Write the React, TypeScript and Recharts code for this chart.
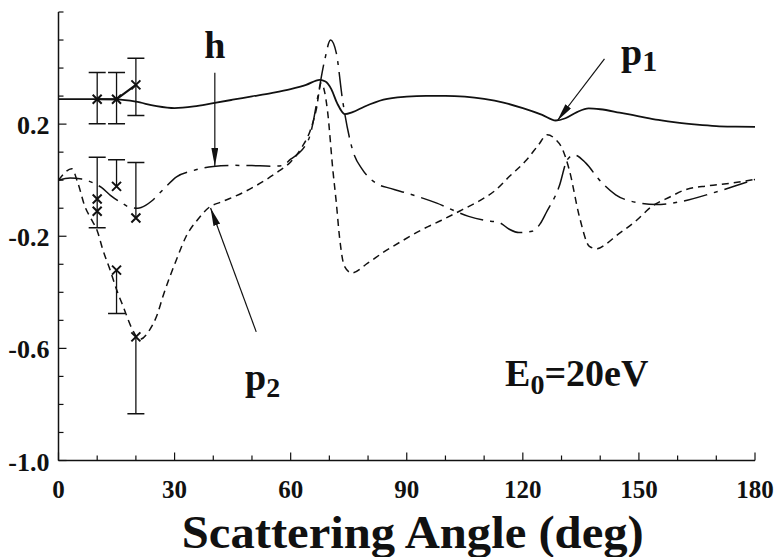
import React from "react";
import { ComposedChart, Line, Scatter, XAxis, YAxis, ReferenceDot } from "recharts";

// ---- theory curves: [scattering angle (deg), value]
const p1Curve: number[][] = [
  [0, 0.289], [5, 0.289], [10, 0.289], [15, 0.288], [20, 0.28], [25, 0.265], [30, 0.257],
  [35, 0.263], [40, 0.275], [45, 0.287], [50, 0.299], [55, 0.311], [60, 0.325], [64, 0.34],
  [67.5, 0.358], [69, 0.352], [70.5, 0.325], [72, 0.275], [74, 0.236], [76, 0.243],
  [79, 0.262], [84, 0.287], [90, 0.298], [95, 0.301], [100, 0.301], [105, 0.298],
  [110, 0.29], [115, 0.277], [120, 0.257], [125, 0.233], [128.5, 0.213], [131, 0.221],
  [134, 0.243], [137, 0.256], [140, 0.253], [145, 0.241], [150, 0.228], [155, 0.215],
  [160, 0.205], [165, 0.198], [170, 0.193], [175, 0.191], [180, 0.19],
];

const p2Curve: number[][] = [
  [0, 0.0], [1.5, 0.025], [3.4, 0.041], [5, -0.01], [6.8, -0.093], [8.5, -0.14], [10, -0.18],
  [11.5, -0.25], [13.3, -0.319], [15, -0.39], [16.7, -0.45], [19, -0.53], [21, -0.568],
  [23.6, -0.533], [25.5, -0.48], [27, -0.414], [30.5, -0.283], [33, -0.2], [36, -0.14],
  [39, -0.096], [42, -0.078], [45, -0.061], [48, -0.042], [51, -0.02], [54, 0.005],
  [57, 0.033], [60, 0.065], [63, 0.12], [65, 0.175], [66.6, 0.251], [67.9, 0.346],
  [69.5, 0.25], [70.9, 0.037], [71.8, -0.081], [72.6, -0.2], [73.9, -0.307], [75.8, -0.331],
  [80, -0.295], [84, -0.257], [89, -0.215], [94, -0.176], [99, -0.143], [104.4, -0.105],
  [109, -0.072], [113, -0.035], [116.5, 0.013], [121, 0.073], [124, 0.125], [126.3, 0.162],
  [128.5, 0.145], [130, 0.118], [132, 0.037], [134.6, -0.129], [137.2, -0.236],
  [139.2, -0.245], [141.5, -0.228], [144, -0.2], [149, -0.148], [153.4, -0.093],
  [158, -0.06], [162, -0.034], [168, -0.02], [174, -0.01], [180, 0.003],
];

const hCurve: number[][] = [
  [0, 0.0], [3, 0.008], [6, 0.004], [9, -0.01], [11, -0.025], [13.5, -0.055], [16.3, -0.081],
  [18.5, -0.097], [20.5, -0.1], [22.5, -0.09], [24, -0.075], [27, -0.034], [30.5, 0.012],
  [35, 0.035], [40, 0.049], [45, 0.053], [50, 0.052], [55, 0.05], [58, 0.052], [60, 0.075],
  [62, 0.095], [63.6, 0.12], [65, 0.16], [65.7, 0.2], [67, 0.297], [68.8, 0.429], [70.3, 0.5],
  [71.8, 0.453], [73.4, 0.287], [76, 0.108], [78.6, 0.037], [82, -0.01], [86, -0.03],
  [90, -0.046], [97.6, -0.081], [106, -0.129], [110, -0.143], [114, -0.152], [116.5, -0.175],
  [119, -0.187], [122.4, -0.182], [124.5, -0.155], [126, -0.117], [129.4, -0.022],
  [131.5, 0.073], [133.3, 0.09], [136.3, 0.061], [139.7, 0.002], [144, -0.052], [150, -0.081],
  [154.4, -0.087], [161, -0.076], [169, -0.046], [175, -0.02], [180, 0.003],
];

// ---- experimental points
const expAngles = [10, 15, 20];
const p1Exp = [0.289, 0.289, 0.34];
const hExp = [-0.067, -0.022, -0.135];
const p2Exp = [-0.111, -0.321, -0.559];

// error bars: [angle, low, high, capLow, capHigh]
const errorBars: (number | boolean)[][] = [
  [10, 0.201, 0.384, true, true],
  [15, 0.201, 0.384, true, true],
  [20, 0.231, 0.435, true, true],
  [10, -0.17, 0.082, true, true],
  [15, -0.022, 0.073, false, true],
  [20, -0.135, 0.063, false, true],
  [15, -0.476, -0.321, true, false],
  [20, -0.833, -0.559, true, false],
];

// ---- axes
const xTicks = [0, 10, 20, 30, 40, 50, 60, 70, 80, 90, 100, 110, 120, 130, 140, 150, 160, 170, 180];
const xLabelTicks = [0, 30, 60, 90, 120, 150, 180];
const yTicks = [-1.0, -0.9, -0.8, -0.7, -0.6, -0.5, -0.4, -0.3, -0.2, -0.1, 0.0, 0.1, 0.2, 0.3, 0.4, 0.5, 0.6];
const yLabelTicks = [-1.0, -0.6, -0.2, 0.2];
const yLabelText = ["-1.0", "-0.6", "-0.2", "0.2"];
const xTitle = "Scattering Angle (deg)";

// ---- annotations: [angle, value]
const hArrow = [[40.4, 0.383], [40.4, 0.051]];
const p1Arrow = [[141.1, 0.433], [128.9, 0.212]];
const p2Arrow = [[51.1, -0.541], [39.3, -0.099]];
const hLabelPos = [40.4, 0.437];
const p1LabelPos = [145.4, 0.41];
const p2LabelPos = [48.2, -0.748];
const energyLabelPos = [115.4, -0.734];

const toXY = (arr: number[][]) => arr.map(([x, y]) => ({ x, y }));
const FONT = "'Liberation Serif', 'Times New Roman', serif";
const INK = "#111";
const isMajor = (v: number, list: number[]) => list.some((m) => Math.abs(m - v) < 1e-6);

const BottomTick = (props: any) => {
  const { x, y, payload } = props;
  const major = isMajor(payload.value, xLabelTicks);
  return (
    <g>
      <line x1={x} x2={x} y1={y} y2={y - (major ? 8 : 5)} stroke={INK} strokeWidth={1.2} />
      {major && (
        <text x={x} y={y + 37} textAnchor="middle" fontFamily={FONT} fontWeight="bold" fontSize={25} fill={INK}>
          {payload.value}
        </text>
      )}
    </g>
  );
};
const TopTick = (props: any) => {
  const { x, y, payload } = props;
  const major = isMajor(payload.value, xLabelTicks);
  return <line x1={x} x2={x} y1={y} y2={y + (major ? 8 : 5)} stroke={INK} strokeWidth={1.2} />;
};
const LeftTick = (props: any) => {
  const { x, y, payload } = props;
  const idx = yLabelTicks.findIndex((m) => Math.abs(m - payload.value) < 1e-6);
  const major = idx >= 0;
  return (
    <g>
      <line x1={x} x2={x + (major ? 8 : 5)} y1={y} y2={y} stroke={INK} strokeWidth={1.2} />
      {major && (
        <text x={x - 9} y={y + 10} textAnchor="end" fontFamily={FONT} fontWeight="bold" fontSize={26} fill={INK}>
          {yLabelText[idx]}
        </text>
      )}
    </g>
  );
};
const RightTick = (props: any) => {
  const { x, y, payload } = props;
  const major = isMajor(payload.value, yLabelTicks);
  return <line x1={x} x2={x - (major ? 8 : 5)} y1={y} y2={y} stroke={INK} strokeWidth={1.2} />;
};

const Cross = (props: any) => {
  const { cx, cy } = props;
  if (cx == null || cy == null) return <g />;
  const s = 4.5;
  return (
    <path
      d={`M${cx - s},${cy - s}L${cx + s},${cy + s}M${cx + s},${cy - s}L${cx - s},${cy + s}`}
      stroke={INK}
      strokeWidth={2}
      fill="none"
    />
  );
};

const CapDot = (props: any) => {
  const { cx, cy, payload } = props;
  if (!payload || !payload.cap) return <g key={props.key} />;
  return <line key={props.key} x1={cx - 8.5} x2={cx + 8.5} y1={cy} y2={cy} stroke={INK} strokeWidth={1.5} />;
};

const textLabel = (content: React.ReactNode, anchor: string = "start") => (props: any) => (
  <text x={props.cx} y={props.cy} textAnchor={anchor} fontFamily={FONT} fontWeight="bold" fontSize={38} fill={INK}>
    {content}
  </text>
);

const TitleLabel = (props: any) => {
  const vb = props.viewBox || { x: 58, y: 460, width: 697, height: 96 };
  return (
    <text
      x={vb.x + vb.width / 2 + 6}
      y={vb.y + vb.height - 9}
      textAnchor="middle"
      fontFamily={FONT}
      fontWeight="bold"
      fontSize={46}
      textLength={462}
      lengthAdjust="spacingAndGlyphs"
      fill={INK}
    >
      {xTitle}
    </text>
  );
};

export default function App() {
  const p1Data = toXY(p1Curve);
  const p2Data = toXY(p2Curve);
  const hData = toXY(hCurve);
  const p1ExpData = expAngles.map((x, i) => ({ x, y: p1Exp[i] }));
  const hExpData = expAngles.map((x, i) => ({ x, y: hExp[i] }));
  const p2ExpData = expAngles.map((x, i) => ({ x, y: p2Exp[i] }));

  return (
    <div style={{ position: "absolute", left: 0, top: 0, width: 774, height: 557, background: "#fff" }}>
      <svg width={0} height={0} style={{ position: "absolute" }}>
        <defs>
          <marker
            id="arrowHead"
            viewBox="0 0 18 7"
            refX={18}
            refY={3.5}
            markerWidth={18}
            markerHeight={7}
            markerUnits="userSpaceOnUse"
            orient="auto"
          >
            <path d="M0,0 L18,3.5 L0,7 z" fill={INK} />
          </marker>
        </defs>
      </svg>
      <ComposedChart width={774} height={557} margin={{ top: 12, right: 19, bottom: 0, left: 0 }}>
        <XAxis
          xAxisId="bottom"
          type="number"
          dataKey="x"
          domain={[0, 180]}
          ticks={xTicks}
          interval={0}
          tickSize={0}
          tickMargin={0}
          tickLine={false}
          tick={<BottomTick />}
          height={96.5}
          axisLine={{ stroke: INK, strokeWidth: 1.5 }}
          allowDataOverflow
          label={{ content: <TitleLabel /> }}
        />
        <XAxis
          xAxisId="top"
          orientation="top"
          type="number"
          dataKey="x"
          domain={[0, 180]}
          ticks={xTicks}
          interval={0}
          tickSize={0}
          tickMargin={0}
          tickLine={false}
          tick={<TopTick />}
          height={0}
          axisLine={{ stroke: INK, strokeWidth: 1.5 }}
          allowDataOverflow
        />
        <YAxis
          yAxisId="left"
          type="number"
          dataKey="y"
          domain={[-1.0, 0.6]}
          ticks={yTicks}
          interval={0}
          tickSize={0}
          tickMargin={0}
          tickLine={false}
          tick={<LeftTick />}
          width={58.5}
          axisLine={{ stroke: INK, strokeWidth: 1.5 }}
          allowDataOverflow
        />
        <YAxis
          yAxisId="right"
          orientation="right"
          type="number"
          domain={[-1.0, 0.6]}
          ticks={yTicks}
          interval={0}
          tickSize={0}
          tickMargin={0}
          tickLine={false}
          tick={<RightTick />}
          width={0}
          axisLine={{ stroke: INK, strokeWidth: 1.5 }}
          allowDataOverflow
        />

        <Line xAxisId="bottom" yAxisId="left" data={p1Data} dataKey="y" type="monotone" stroke={INK} strokeWidth={1.8} dot={false} isAnimationActive={false} />
        <Line xAxisId="bottom" yAxisId="left" data={p2Data} dataKey="y" type="monotone" stroke={INK} strokeWidth={1.5} strokeDasharray="7 5" dot={false} isAnimationActive={false} />
        <Line xAxisId="bottom" yAxisId="left" data={hData} dataKey="y" type="monotone" stroke={INK} strokeWidth={1.5} strokeDasharray="24 7 4 7" dot={false} isAnimationActive={false} />

        {errorBars.map((b, i) => (
          <Line
            key={`eb${i}`}
            xAxisId="bottom"
            yAxisId="left"
            data={[
              { x: b[0] as number, y: b[1] as number, cap: b[3] },
              { x: b[0] as number, y: b[2] as number, cap: b[4] },
            ]}
            dataKey="y"
            type="linear"
            stroke={INK}
            strokeWidth={1.3}
            dot={<CapDot />}
            activeDot={false}
            isAnimationActive={false}
          />
        ))}

        <Line xAxisId="bottom" yAxisId="left" data={p1ExpData} dataKey="y" type="linear" stroke={INK} strokeWidth={2} dot={<Cross />} activeDot={false} isAnimationActive={false} />
        <Scatter xAxisId="bottom" yAxisId="left" data={hExpData} dataKey="y" shape={<Cross />} isAnimationActive={false} />
        <Scatter xAxisId="bottom" yAxisId="left" data={p2ExpData} dataKey="y" shape={<Cross />} isAnimationActive={false} />

        {[hArrow, p1Arrow, p2Arrow].map((a, i) => (
          <Line
            key={`ar${i}`}
            xAxisId="bottom"
            yAxisId="left"
            data={toXY(a)}
            dataKey="y"
            type="linear"
            stroke={INK}
            strokeWidth={1.2}
            dot={false}
            activeDot={false}
            markerEnd="url(#arrowHead)"
            isAnimationActive={false}
          />
        ))}

        <ReferenceDot xAxisId="bottom" yAxisId="left" x={hLabelPos[0]} y={hLabelPos[1]} r={0} shape={textLabel("h", "middle")} />
        <ReferenceDot
          xAxisId="bottom"
          yAxisId="left"
          x={p1LabelPos[0]}
          y={p1LabelPos[1]}
          r={0}
          shape={textLabel(
            <>
              <tspan>p</tspan>
              <tspan fontSize={30} dy={6}>1</tspan>
            </>
          )}
        />
        <ReferenceDot
          xAxisId="bottom"
          yAxisId="left"
          x={p2LabelPos[0]}
          y={p2LabelPos[1]}
          r={0}
          shape={textLabel(
            <>
              <tspan>p</tspan>
              <tspan fontSize={28} dy={7}>2</tspan>
            </>
          )}
        />
        <ReferenceDot
          xAxisId="bottom"
          yAxisId="left"
          x={energyLabelPos[0]}
          y={energyLabelPos[1]}
          r={0}
          shape={textLabel(
            <>
              <tspan>E</tspan>
              <tspan fontSize={28} dy={8}>0</tspan>
              <tspan dy={-8}>=20eV</tspan>
            </>
          )}
        />
      </ComposedChart>
    </div>
  );
}
